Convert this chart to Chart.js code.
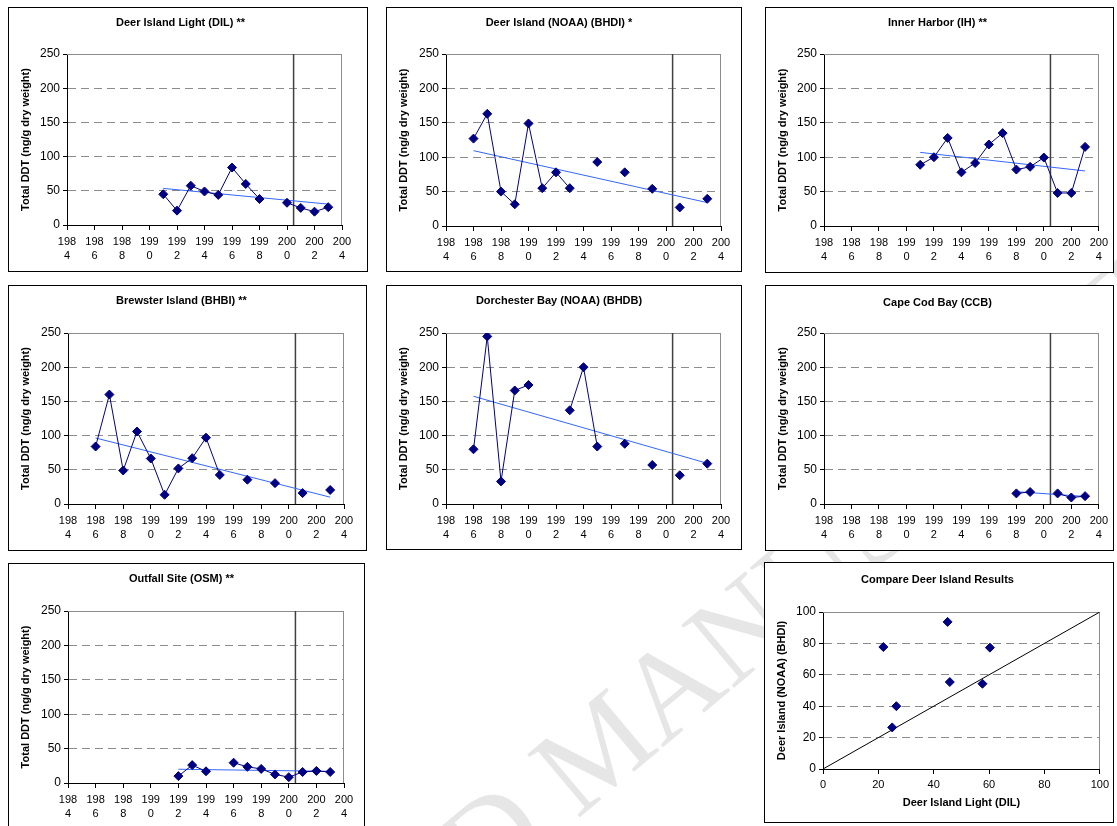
<!DOCTYPE html>
<html>
<head>
<meta charset="utf-8">
<script src="https://cdn.jsdelivr.net/npm/chart.js@4.4.0/dist/chart.umd.min.js"></script>
<style>
  body { margin: 0; background: #fff; width: 1117px; height: 826px; position: relative; overflow: hidden; }
  .panel { position: absolute; border: 1px solid #000; box-sizing: border-box; background: #fff; z-index: 1; }
  .panel canvas { display: block; }
  #wm { position: absolute; left: 0; top: 0; z-index: 0; white-space: nowrap; line-height: 1;
        font: 125px "Liberation Serif", "Times New Roman", serif; color: #e6e6e6; transform-origin: 0 0; pointer-events: none; }
</style>
</head>
<body>
<div id="wm">ACCEPTED MANUSCRIPT</div>
<script>
// sampling years shared by the station panels
const years = [1986, 1987, 1988, 1989, 1990, 1991, 1992, 1993, 1994, 1995, 1996, 1997, 1998, 1999, 2000, 2001, 2002, 2003];

// Total DDT (ng/g dry weight), null = no sample that year
const dilValues  = [null, null, null, null, null, 45, 21, 57.5, 49, 44, 84, 60, 38, null, 32.5, 25, 19.5, 26];
const bhdiValues = [127, 163, 50, 31.5, 149, 55, 78, 55, null, 93, null, 78, null, 54, null, 27, null, 39.5];
const ihValues   = [null, null, null, null, null, 89, 100, 128, 78, 91.5, 118.5, 135, 82, 86, 99.5, 48, 48, 115];
const bhbiValues = [84, 160, 49, 106, 66.5, 13.5, 52, 67, 97, 42.5, null, 35.5, null, 30.5, null, 16, null, 20.5];
const bhdbValues = [80, 245, 33, 166, 174, null, null, 137, 200, 84, null, 88, null, 57, null, 42, null, 59];
const ccbValues  = [null, null, null, null, null, null, null, null, null, null, null, null, 15.5, 17.5, null, 15.5, 9.5, 11.5];
const osmValues  = [null, null, null, null, null, null, 10, 26, 17, null, 29.5, 23.5, 20.5, 12.5, 8.5, 16, 17.5, 16];

// linear trend lines (start/end)
const dilTrendYears  = [1991, 2003], dilTrend  = [53.5, 30.5];
const bhdiTrendYears = [1986, 2003], bhdiTrend = [109.5, 34];
const ihTrendYears   = [1991, 2003], ihTrend   = [107, 80];
const bhbiTrendYears = [1986, 2003], bhbiTrend = [96.5, 10];
const bhdbTrendYears = [1986, 2003], bhdbTrend = [157.5, 59.5];
const ccbTrendYears  = [1998, 2003], ccbTrend  = [18, 11];
const osmTrendYears  = [1992, 2003], osmTrend  = [20, 17];

// outfall start marker
const outfallYear = 2000.48;

// Deer Island comparison (DIL vs BHDI, same years)
const dilCompare  = [21.8, 45, 60.3, 45.8, 57.6, 26.5, 25];
const bhdiCompare = [77.7, 93.7, 77.3, 55.4, 54.3, 40, 26.5];
const oneToOne = [0, 100];

const FONT = 'Arial, "Liberation Sans", Helvetica, sans-serif';
Chart.defaults.font.family = FONT;
Chart.defaults.color = '#000';

const NAVY = '#000080';
const GRID = '#8c8c8c';

// place the page watermark so its "M" sits where the reference shows it
(function () {
  const wm = document.getElementById('wm');
  const ctx = document.createElement('canvas').getContext('2d');
  ctx.font = getComputedStyle(wm).font;
  const cx = ctx.measureText('ACCEPTED ').width + ctx.measureText('M').width / 2;
  const cy = 0.5 * 125;
  const a = -40 * Math.PI / 180;
  const rx = cx * Math.cos(a) - cy * Math.sin(a);
  const ry = cx * Math.sin(a) + cy * Math.cos(a);
  wm.style.transform = `translate(${587 - rx}px, ${745 - ry}px) rotate(-40deg)`;
})();

// gray top/right edge of the plot area
const plotFrame = {
  id: 'plotFrame',
  beforeDatasetsDraw(chart) {
    const { ctx, chartArea: a } = chart;
    const t = Math.round(a.top) + 0.5, r = Math.round(a.right) - 0.5;
    ctx.save();
    ctx.strokeStyle = GRID;
    ctx.lineWidth = 1;
    ctx.beginPath();
    ctx.moveTo(a.left, t);
    ctx.lineTo(r, t);
    ctx.lineTo(r, a.bottom);
    ctx.stroke();
    ctx.restore();
  }
};

function makePanel(box) {
  const [l, t, w, h] = box;
  const div = document.createElement('div');
  div.className = 'panel';
  div.style.cssText = `left:${l}px;top:${t}px;width:${w}px;height:${h}px`;
  const cv = document.createElement('canvas');
  cv.width = w - 2;
  cv.height = h - 2;
  div.appendChild(cv);
  document.body.appendChild(div);
  return cv;
}

function titleOpts(text, centerY, plotTop) {
  const lh = 13.2;
  const top = Math.round(centerY - 1 - lh / 2);
  return {
    display: true, text, color: '#000',
    font: { size: 11, weight: 'bold', lineHeight: 1.2 },
    padding: { top, bottom: plotTop - 1 - top - lh }
  };
}

function yAxis(max, step, label, plotLeft) {
  const padL = 10;
  return {
    min: 0, max,
    ticks: { stepSize: step, color: '#000', font: { size: 12 }, padding: 3 },
    grid: { color: GRID, tickColor: '#000', tickLength: 4 },
    border: { color: '#000', dash: [8, 5] },
    title: { display: true, text: label, color: '#000', font: { size: 11, weight: 'bold', lineHeight: 1.2 }, padding: 0 },
    afterFit: s => { s.width = plotLeft - 1 - padL; }
  };
}

const stations = [
  { title: 'Deer Island Light (DIL) **', values: dilValues, ty: dilTrendYears, tv: dilTrend, box: [8, 7, 360, 265], plot: [59, 47, 26, 47], titleY: 15.7 },
  { title: 'Deer Island (NOAA) (BHDI) *', values: bhdiValues, ty: bhdiTrendYears, tv: bhdiTrend, box: [386, 7, 356, 265], plot: [60, 47, 21, 46], titleY: 15.7 },
  { title: 'Inner Harbor (IH) **', values: ihValues, ty: ihTrendYears, tv: ihTrend, box: [765, 7, 349, 266], plot: [59, 47, 15, 47], titleY: 15.7 },
  { title: 'Brewster Island (BHBI) **', values: bhbiValues, ty: bhbiTrendYears, tv: bhbiTrend, box: [8, 285, 359, 266], plot: [60, 48, 23, 47], titleY: 15.7 },
  { title: 'Dorchester Bay (NOAA) (BHDB)', values: bhdbValues, ty: bhdbTrendYears, tv: bhdbTrend, box: [386, 285, 356, 265], plot: [60, 48, 21, 46], titleY: 16 },
  { title: 'Cape Cod Bay (CCB)', values: ccbValues, ty: ccbTrendYears, tv: ccbTrend, box: [765, 285, 349, 266], plot: [59, 48, 15, 47], titleY: 17.6 },
  { title: 'Outfall Site (OSM) **', values: osmValues, ty: osmTrendYears, tv: osmTrend, box: [8, 563, 357, 272], plot: [60, 48, 21, 52], titleY: 16 }
];

stations.forEach(s => {
  const cv = makePanel(s.box);
  const [pL, pT, pR, pB] = s.plot;
  new Chart(cv, {
    type: 'line',
    data: {
      datasets: [
        {
          data: years.map((y, i) => ({ x: y, y: s.values[i] })),
          borderColor: NAVY, backgroundColor: NAVY, borderWidth: 1,
          pointStyle: 'rectRot', pointRadius: 4.5, pointBorderWidth: 1,
          spanGaps: false, order: 0
        },
        {
          data: s.ty.map((y, i) => ({ x: y, y: s.tv[i] })),
          borderColor: '#3366ff', borderWidth: 1, pointRadius: 0, order: 1
        },
        {
          data: [{ x: outfallYear, y: 0 }, { x: outfallYear, y: 250 }],
          borderColor: '#404040', borderWidth: 1.5, pointRadius: 0, order: 2
        }
      ]
    },
    options: {
      responsive: false, animation: false,
      layout: { padding: { left: 10, right: pR - 1, top: 0, bottom: 0 } },
      plugins: {
        legend: { display: false }, tooltip: { enabled: false },
        title: titleOpts(s.title, s.titleY, pT)
      },
      scales: {
        x: {
          type: 'linear', min: 1984, max: 2004,
          ticks: {
            stepSize: 2, autoSkip: false, maxRotation: 0, color: '#000', padding: 5,
            font: { size: 11, lineHeight: 14 / 11 },
            callback: v => { const t = String(v); return [t.slice(0, 3), t.slice(3)]; }
          },
          grid: { drawOnChartArea: false, tickColor: '#000', tickLength: 5 },
          border: { color: '#000' },
          afterFit: sc => { sc.height = pB - 1; }
        },
        y: yAxis(250, 50, 'Total DDT (ng/g dry weight)', pL)
      }
    },
    plugins: [plotFrame]
  });
});

// comparison scatter
(function () {
  const box = [764, 562, 350, 261];
  const [pL, pT, pR, pB] = [59, 50, 14, 54];
  const cv = makePanel(box);
  const xh = 41;
  new Chart(cv, {
    type: 'scatter',
    data: {
      datasets: [
        {
          data: dilCompare.map((d, i) => ({ x: d, y: bhdiCompare[i] })),
          backgroundColor: NAVY, borderColor: NAVY,
          pointStyle: 'rectRot', pointRadius: 4.5, pointBorderWidth: 1, order: 0
        },
        {
          type: 'line',
          data: oneToOne.map(v => ({ x: v, y: v })),
          borderColor: '#000', borderWidth: 1, pointRadius: 0, order: 1
        }
      ]
    },
    options: {
      responsive: false, animation: false,
      layout: { padding: { left: 10, right: pR - 1, top: 0, bottom: pB - 1 - xh } },
      plugins: {
        legend: { display: false }, tooltip: { enabled: false },
        title: titleOpts('Compare Deer Island Results', 17.6, pT)
      },
      scales: {
        x: {
          type: 'linear', min: 0, max: 100,
          ticks: { stepSize: 20, color: '#000', padding: 4, maxRotation: 0, font: { size: 11, lineHeight: 1.2 } },
          grid: { drawOnChartArea: false, tickColor: '#000', tickLength: 5 },
          border: { color: '#000' },
          title: { display: true, text: 'Deer Island Light (DIL)', color: '#000', font: { size: 11, weight: 'bold', lineHeight: 1.2 }, padding: 0 },
          afterFit: sc => { sc.height = xh; }
        },
        y: yAxis(100, 20, 'Deer Island (NOAA) (BHDI)', pL)
      }
    },
    plugins: [plotFrame]
  });
})();
</script>
</body>
</html>
